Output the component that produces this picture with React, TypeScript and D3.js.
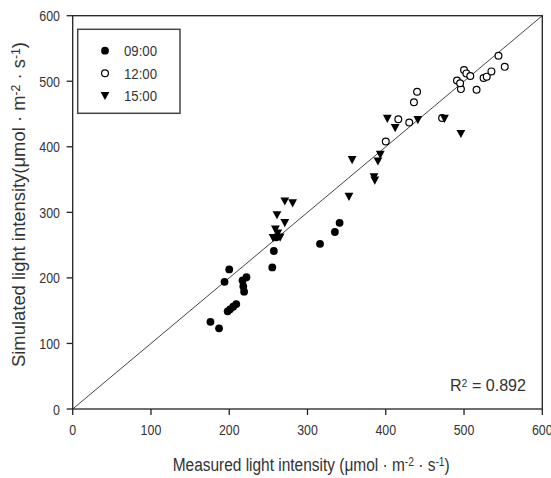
import React from "react";
import * as d3 from "d3";

const xTicks = [0, 100, 200, 300, 400, 500, 600];
const yTicks = [0, 100, 200, 300, 400, 500, 600];

const series0900: [number, number][] = [
  [176, 133], [187, 123], [194, 194], [200, 213], [198, 149], [201, 152],
  [205, 156], [209, 160], [217, 196], [222, 201], [218, 187], [219, 179],
  [255, 216], [257, 241], [316, 252], [335, 270], [341, 284], [260, 262],
];
const series1200: [number, number][] = [
  [400, 408], [416, 442], [430, 437], [436, 468], [440, 484], [472, 444],
  [491, 501], [496, 488], [495, 497], [500, 517], [503, 512], [508, 508],
  [516, 487], [525, 505], [529, 507], [535, 515], [544, 539], [552, 522],
];
const series1500: [number, number][] = [
  [256, 261], [259, 274], [262, 268], [265, 262], [261, 296], [271, 284],
  [271, 317], [281, 314], [353, 324], [357, 380], [385, 354], [386, 349],
  [390, 378], [393, 388], [402, 443], [412, 429], [441, 441], [475, 443],
  [496, 420],
];
const legendLabels = ["09:00", "12:00", "15:00"];
const r2Label = "0.892";

const W = 551, H = 478;
const x = d3.scaleLinear().domain([0, 600]).range([72.7, 542.3]);
const y = d3.scaleLinear().domain([0, 600]).range([409, 15.7]);
const tri = "M-4.4,-3.8L4.4,-3.8L0,4.4Z";
const txt = "#333";
const font = "'Liberation Sans', Arial, sans-serif";

function Marker({ kind, cx, cy }: { kind: number; cx: number; cy: number }) {
  if (kind === 0) return <circle cx={cx} cy={cy} r={3.9} fill="#000" />;
  if (kind === 1)
    return <circle cx={cx} cy={cy} r={3.4} fill="#fff" stroke="#000" strokeWidth={1.2} />;
  return <path d={tri} transform={`translate(${cx},${cy})`} fill="#000" />;
}

function Unit() {
  return (
    <>
      (μmol · m<tspan baselineShift="45%" fontSize={12}>-2</tspan> · s
      <tspan baselineShift="45%" fontSize={12}>-1</tspan>)
    </>
  );
}

export default function App() {
  const all = [series0900, series1200, series1500];
  return (
    <svg width={W} height={H} style={{ position: "absolute", left: 0, top: 0 }} fontFamily={font}>
      <rect width={W} height={H} fill="#fff" />
      <line x1={x(0)} y1={y(0)} x2={x(600)} y2={y(600)} stroke="#444" strokeWidth={1} />
      {all.map((s, k) =>
        s.map((d, i) => <Marker key={`${k}-${i}`} kind={k} cx={x(d[0])} cy={y(d[1])} />)
      )}
      <rect x={x(0)} y={y(600)} width={x(600) - x(0)} height={y(0) - y(600)} fill="none" stroke="#222" strokeWidth={1.3} />
      {xTicks.map((t) => (
        <g key={`xt${t}`}>
          <line x1={x(t)} x2={x(t)} y1={y(0)} y2={y(0) + 6} stroke="#222" strokeWidth={1.3} />
          <text x={x(t)} y={435} textAnchor="middle" fontSize={14} fill={txt}
            textLength={String(t).length * 6.9} lengthAdjust="spacingAndGlyphs">{t}</text>
        </g>
      ))}
      {yTicks.map((t) => (
        <g key={`yt${t}`}>
          <line x1={x(0) - 6} x2={x(0)} y1={y(t)} y2={y(t)} stroke="#222" strokeWidth={1.3} />
          <text x={60} y={y(t) + 5.5} textAnchor="end" fontSize={14} fill={txt}
            textLength={String(t).length * 6.9} lengthAdjust="spacingAndGlyphs">{t}</text>
        </g>
      ))}
      <text x={172.7} y={471} fontSize={18} fill={txt} textLength={277} lengthAdjust="spacingAndGlyphs">
        Measured light intensity <Unit />
      </text>
      <text transform="translate(25,367) rotate(-90)" x={0} y={0} fontSize={18} fill={txt}
        textLength={325} lengthAdjust="spacingAndGlyphs">
        Simulated light intensity<Unit />
      </text>
      <rect x={77.7} y={29.3} width={102.3} height={84} fill="#fff" stroke="#444" strokeWidth={1.5} />
      {legendLabels.map((l, i) => (
        <g key={l}>
          <Marker kind={i} cx={105} cy={50.7 + i * 22.5} />
          <text x={124} y={50.7 + i * 22.5 + 5.5} fontSize={15} fill={txt}
            textLength={33} lengthAdjust="spacingAndGlyphs">{l}</text>
        </g>
      ))}
      <text x={450} y={391} fontSize={17} fill={txt} textLength={76} lengthAdjust="spacingAndGlyphs">
        R<tspan baselineShift="40%" fontSize={11}>2</tspan> = {r2Label}
      </text>
    </svg>
  );
}
